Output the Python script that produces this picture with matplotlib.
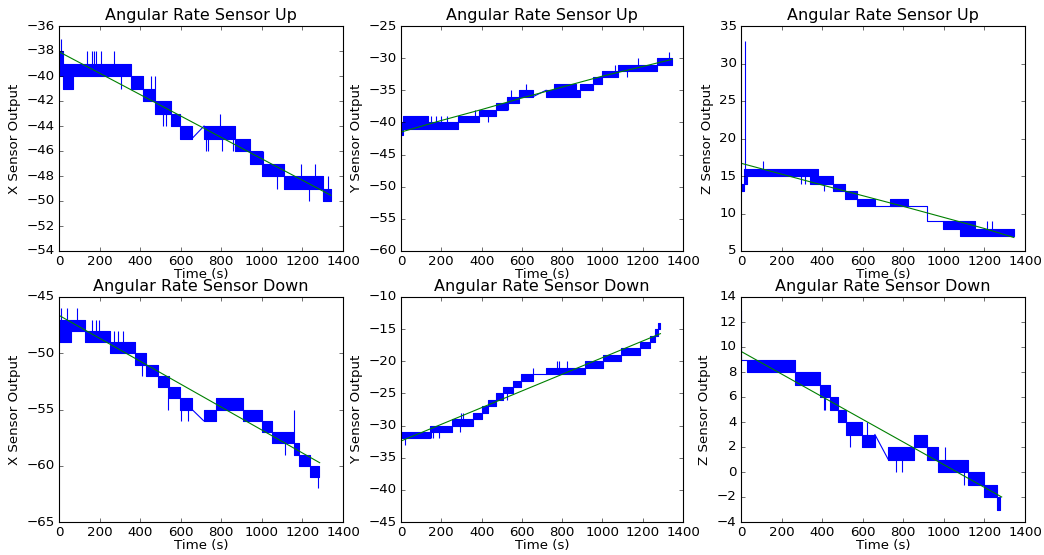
import matplotlib
matplotlib.use("Agg")
import matplotlib.pyplot as plt

plt.style.use("classic")

# ---------------- X sensor, up ----------------
xu_seg_t0 = [0, 20, 70, 357, 415, 475, 550, 597, 715, 870, 940, 1000, 1110, 1300]
xu_seg_t1 = [20, 70, 357, 415, 475, 550, 597, 656, 870, 940, 1000, 1110, 1300, 1340]
xu_seg_lo = [-40, -41, -40, -41, -42, -43, -44, -45, -45, -46, -47, -48, -49, -50]
xu_seg_hi = [-38, -39, -39, -40, -41, -42, -43, -44, -44, -45, -46, -47, -48, -49]
xu_spk_t = [12, 140, 165, 172, 180, 205, 272, 305, 455, 475, 515, 528, 725, 735, 795, 805, 860, 1005, 1075, 1195, 1232, 1260, 1325]
xu_spk_y0 = [-38, -39, -39, -39, -39, -39, -39, -40, -41, -41, -43, -43, -45, -45, -44, -45, -45, -47, -48, -48, -49, -48, -49]
xu_spk_y1 = [-37, -38, -38, -38, -38, -38, -38, -41, -40, -40, -44, -44, -46, -46, -43, -46, -46, -46, -49, -47, -50, -47, -48]
xu_gap_t = [656, 715]
xu_gap_y = [-45, -44]
xu_fit_t = [0, 1340]
xu_fit_y = [-38.06, -49.54]

# ---------------- Y sensor, up ----------------
yu_seg_t0 = [0, 12, 135, 284, 388, 470, 524, 588, 720, 760, 870, 889, 953, 998, 1077, 1271]
yu_seg_t1 = [12, 135, 284, 388, 470, 524, 588, 655, 760, 870, 889, 953, 998, 1077, 1271, 1345]
yu_seg_lo = [-42, -41, -41, -40, -39, -38, -37, -36, -36, -36, -36, -35, -34, -33, -32, -31]
yu_seg_hi = [-40, -39, -40, -39, -38, -37, -36, -35, -35, -34, -35, -34, -33, -32, -31, -30]
yu_spk_t = [150, 175, 200, 230, 367, 430, 530, 545, 619, 1063, 1122, 1177, 1331]
yu_spk_y0 = [-40, -40, -40, -40, -39, -39, -37, -36, -35, -32, -32, -31, -30]
yu_spk_y1 = [-39, -39, -39, -39, -38, -40, -38, -35, -34, -31, -33, -30, -29]
yu_gap_t = [655, 720]
yu_gap_y = [-36, -35]
yu_fit_t = [0, 200, 400, 600, 800, 1000, 1200, 1345]
yu_fit_y = [-41.5, -39.7, -38.0, -36.2, -34.5, -32.8, -31.3, -30.2]

# ---------------- Z sensor, up ----------------
zu_seg_t0 = [0, 15, 28, 340, 380, 455, 512, 570, 734, 996, 1080, 1153]
zu_seg_t1 = [15, 28, 340, 380, 455, 512, 570, 660, 823, 1080, 1153, 1345]
zu_seg_lo = [13, 14, 15, 14, 14, 13, 12, 11, 11, 8, 7, 7]
zu_seg_hi = [14, 16, 16, 16, 15, 14, 13, 12, 12, 9, 9, 8]
zu_spk_t = [20, 110, 295, 315, 408, 1212, 1237]
zu_spk_y0 = [16, 16, 15, 15, 14, 8, 8]
zu_spk_y1 = [33, 17, 14, 14, 13, 9, 9]
zu_gap_t = [660, 917, 917, 996]
zu_gap_y = [11, 11, 9, 9]
zu_fit_t = [0, 400, 800, 1200, 1345]
zu_fit_y = [16.7, 13.8, 10.95, 8.0, 6.8]

# ---------------- X sensor, down ----------------
xd_seg_t0 = [0, 60, 130, 250, 373, 430, 490, 540, 595, 713, 775, 905, 1000, 1050, 1160, 1185, 1235]
xd_seg_t1 = [60, 130, 250, 373, 430, 490, 540, 595, 656, 775, 905, 1000, 1050, 1160, 1185, 1235, 1280]
xd_seg_lo = [-49, -48, -49, -50, -51, -52, -53, -54, -55, -56, -55, -56, -57, -58, -59, -60, -61]
xd_seg_hi = [-47, -47, -48, -49, -50, -51, -52, -53, -54, -55, -54, -55, -56, -57, -58, -59, -60]
xd_spk_t = [8, 41, 89, 165, 180, 195, 270, 290, 315, 407, 537, 603, 636, 1112, 1158, 1277]
xd_spk_y0 = [-47, -47, -47, -48, -48, -48, -49, -49, -49, -51, -53, -54, -55, -58, -57, -61]
xd_spk_y1 = [-46, -46, -46, -47, -47, -47, -48, -48, -48, -52, -55, -56, -56, -59, -55, -62]
xd_gap_t = [656, 713]
xd_gap_y = [-55, -56]
xd_fit_t = [0, 1285]
xd_fit_y = [-46.63, -59.73]

# ---------------- Y sensor, down ----------------
yd_seg_t0 = [0, 144, 255, 359, 400, 433, 474, 507, 557, 598, 722, 912, 1003, 1094, 1185, 1235, 1262, 1276]
yd_seg_t1 = [144, 255, 359, 400, 433, 474, 507, 557, 598, 656, 912, 1003, 1094, 1185, 1235, 1262, 1276, 1288]
yd_seg_lo = [-32, -31, -30, -29, -28, -27, -26, -25, -24, -23, -22, -21, -20, -19, -18, -17, -16, -15]
yd_seg_hi = [-31, -30, -29, -28, -27, -26, -25, -24, -23, -22, -21, -20, -19, -18, -17, -16, -15, -14]
yd_spk_t = [20, 150, 160, 190, 293, 300, 310, 524, 653, 772, 785, 822]
yd_spk_y0 = [-32, -31, -31, -31, -30, -29, -29, -25, -22, -21, -21, -21]
yd_spk_y1 = [-33, -32, -32, -32, -31, -28, -28, -26, -21, -20, -20, -20]
yd_gap_t = [656, 722]
yd_gap_y = [-22, -22]
yd_fit_t = [0, 1288]
yd_fit_y = [-32.4, -15.7]

# ---------------- Z sensor, down ----------------
zd_seg_t0 = [0, 28, 266, 390, 440, 480, 520, 595, 726, 853, 915, 973, 1117, 1199, 1262]
zd_seg_t1 = [28, 266, 390, 440, 480, 520, 595, 660, 853, 915, 973, 1117, 1199, 1262, 1277]
zd_seg_lo = [9, 8, 7, 6, 5, 4, 3, 2, 1, 2, 1, 0, -1, -2, -3]
zd_seg_hi = [9, 9, 8, 7, 6, 5, 4, 3, 2, 3, 2, 1, 0, -1, -2]
zd_spk_t = [2, 410, 415, 535, 620, 762, 795, 1005, 1100]
zd_spk_y0 = [9, 6, 6, 3, 3, 1, 1, 1, 0]
zd_spk_y1 = [13, 5, 5, 2, 4, 0, 0, 2, -1]
zd_gap_t = [660, 726]
zd_gap_y = [3, 1]
zd_fit_t = [0, 1285]
zd_fit_y = [9.65, -2.0]

titles = ["Angular Rate Sensor Up"] * 3 + ["Angular Rate Sensor Down"] * 3
ylabels = ["X Sensor Output", "Y Sensor Output", "Z Sensor Output"] * 2
ylims = [(-54, -36), (-60, -25), (5, 35), (-65, -45), (-45, -10), (-4, 14)]
xlabel = "Time (s)"

panels = [
    (xu_seg_t0, xu_seg_t1, xu_seg_lo, xu_seg_hi, xu_spk_t, xu_spk_y0, xu_spk_y1, xu_gap_t, xu_gap_y, xu_fit_t, xu_fit_y),
    (yu_seg_t0, yu_seg_t1, yu_seg_lo, yu_seg_hi, yu_spk_t, yu_spk_y0, yu_spk_y1, yu_gap_t, yu_gap_y, yu_fit_t, yu_fit_y),
    (zu_seg_t0, zu_seg_t1, zu_seg_lo, zu_seg_hi, zu_spk_t, zu_spk_y0, zu_spk_y1, zu_gap_t, zu_gap_y, zu_fit_t, zu_fit_y),
    (xd_seg_t0, xd_seg_t1, xd_seg_lo, xd_seg_hi, xd_spk_t, xd_spk_y0, xd_spk_y1, xd_gap_t, xd_gap_y, xd_fit_t, xd_fit_y),
    (yd_seg_t0, yd_seg_t1, yd_seg_lo, yd_seg_hi, yd_spk_t, yd_spk_y0, yd_spk_y1, yd_gap_t, yd_gap_y, yd_fit_t, yd_fit_y),
    (zd_seg_t0, zd_seg_t1, zd_seg_lo, zd_seg_hi, zd_spk_t, zd_spk_y0, zd_spk_y1, zd_gap_t, zd_gap_y, zd_fit_t, zd_fit_y),
]

W, H = 1044, 555
fig = plt.figure(figsize=(W / 80, H / 80), dpi=80, facecolor="white")

lefts = [59, 401, 741]
widths = [284, 282, 284]
tops = [26, 297]
ah = 225

for i, p in enumerate(panels):
    r, c = divmod(i, 3)
    ax = fig.add_axes([lefts[c] / W, (H - tops[r] - ah) / H, widths[c] / W, ah / H])
    t0s, t1s, los, his, st, sy0, sy1, gt, gy, ft, fy = p
    for a, b, lo, hi in zip(t0s, t1s, los, his):
        ax.fill_between([a, b], [lo, lo], [hi, hi], facecolor="b", edgecolor="b", linewidth=1.0)
    ax.vlines(st, sy0, sy1, colors="b", linewidth=1.0)
    ax.plot(gt, gy, color="b", linewidth=1.0)
    ax.plot(ft, fy, color="g", linewidth=1.0)
    ax.set_xlim(0, 1400)
    ax.set_ylim(*ylims[i])
    ax.set_xticks(range(0, 1401, 200))
    ax.set_title(titles[i])
    ax.set_ylabel(ylabels[i])
    ax.set_xlabel(xlabel, labelpad=0)

fig.savefig("out.png", dpi=80, facecolor="white")
